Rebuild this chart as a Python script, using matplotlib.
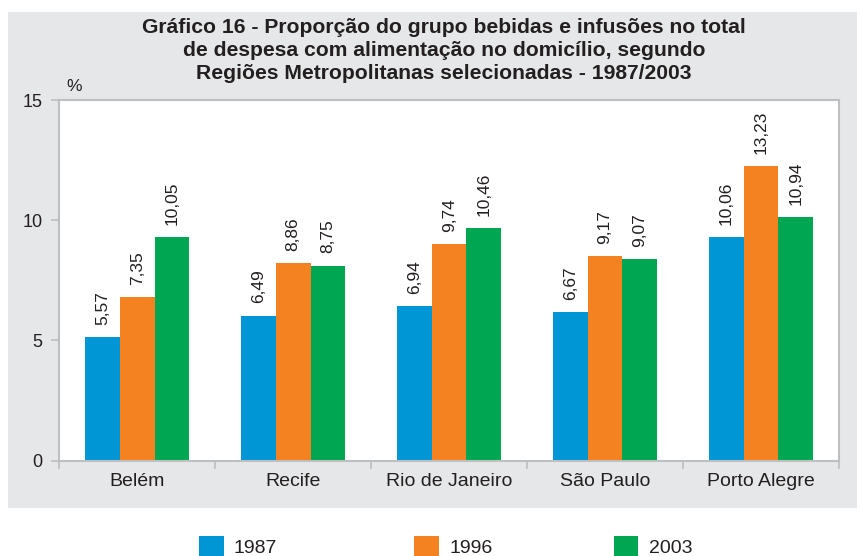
import matplotlib
matplotlib.use("Agg")
import matplotlib.pyplot as plt
import numpy as np
from matplotlib.patches import Rectangle

# data
regions = ["Belém", "Recife", "Rio de Janeiro", "São Paulo", "Porto Alegre"]
years = ["1987", "1996", "2003"]
# bar heights as drawn in the original (they sit a bit below the printed labels)
bar_1987 = [5.14, 6.02, 6.43, 6.18, 9.30]
bar_1996 = [6.80, 8.22, 9.00, 8.50, 12.25]
bar_2003 = [9.30, 8.10, 9.67, 8.38, 10.13]
# printed value labels
lab_1987 = ["5,57", "6,49", "6,94", "6,67", "10,06"]
lab_1996 = ["7,35", "8,86", "9,74", "9,17", "13,23"]
lab_2003 = ["10,05", "8,75", "10,46", "9,07", "10,94"]
yticks = [0, 5, 10, 15]

colors = ["#0096d6", "#f58220", "#00a651"]
panel_gray = "#e6e7e8"
spine_gray = "#bdbfc1"
txt = "#231f20"

plt.rcParams["font.family"] = ["Liberation Sans", "DejaVu Sans"]

fig = plt.figure(figsize=(8.57, 5.56), dpi=100)
fig.patch.set_facecolor("white")
fig.patches.append(Rectangle((0.009, 0.086), 1.0, 0.892, transform=fig.transFigure,
                             facecolor=panel_gray, edgecolor="none", zorder=-10))

ax = fig.add_axes([0.0692, 0.1714, 0.9098, 0.6486])
ax.set_facecolor("white")

x = np.arange(len(regions))
w = 0.222
series = [(bar_1987, lab_1987), (bar_1996, lab_1996), (bar_2003, lab_2003)]
for i, (vals, labs) in enumerate(series):
    xs = x + (i - 1) * w
    ax.bar(xs, vals, width=w, color=colors[i], linewidth=0, zorder=2)
    for xi, v, t in zip(xs, vals, labs):
        ax.annotate(t, (xi, v), xytext=(0, 9), textcoords="offset points",
                    rotation=90, ha="center", va="bottom", fontsize=12.5, color=txt)

ax.set_xlim(-0.5, len(regions) - 0.5)
ax.set_ylim(0, 15)
ax.set_yticks(yticks)
ax.set_yticklabels([str(t) for t in yticks], fontsize=13, color=txt)
ax.set_xticks(np.arange(len(regions) + 1) - 0.5)
ax.set_xticklabels([])
ax.set_xticks(x, minor=True)
ax.set_xticklabels(regions, minor=True, fontsize=14, color=txt)
ax.tick_params(axis="x", which="minor", length=0, pad=9)
ax.tick_params(axis="x", which="major", length=6, color=spine_gray, width=1.2)
ax.tick_params(axis="y", length=6, color=spine_gray, width=1.2, pad=6)
for s in ax.spines.values():
    s.set_color(spine_gray)
    s.set_linewidth(1.5)

fig.text(0.078, 0.836, "%", fontsize=12.5, color=txt)

fig.text(0.518, 0.968, "Gráfico 16 - Proporção do grupo bebidas e infusões no total\n"
         "de despesa com alimentação no domicílio, segundo\n"
         "Regiões Metropolitanas selecionadas - 1987/2003",
         ha="center", va="top", fontsize=15.2, fontweight="bold",
         linespacing=1.27, color=txt)

# legend drawn below the panel
leg_x = [0.232, 0.483, 0.716]
for lx, c, yr in zip(leg_x, colors, years):
    fig.patches.append(Rectangle((lx, -0.01), 0.029, 0.046, transform=fig.transFigure,
                                 facecolor=c, edgecolor="none"))
    fig.text(lx + 0.041, 0.014, yr, fontsize=14, color=txt, va="center")

fig.savefig("out.png", dpi=100, facecolor="white")
